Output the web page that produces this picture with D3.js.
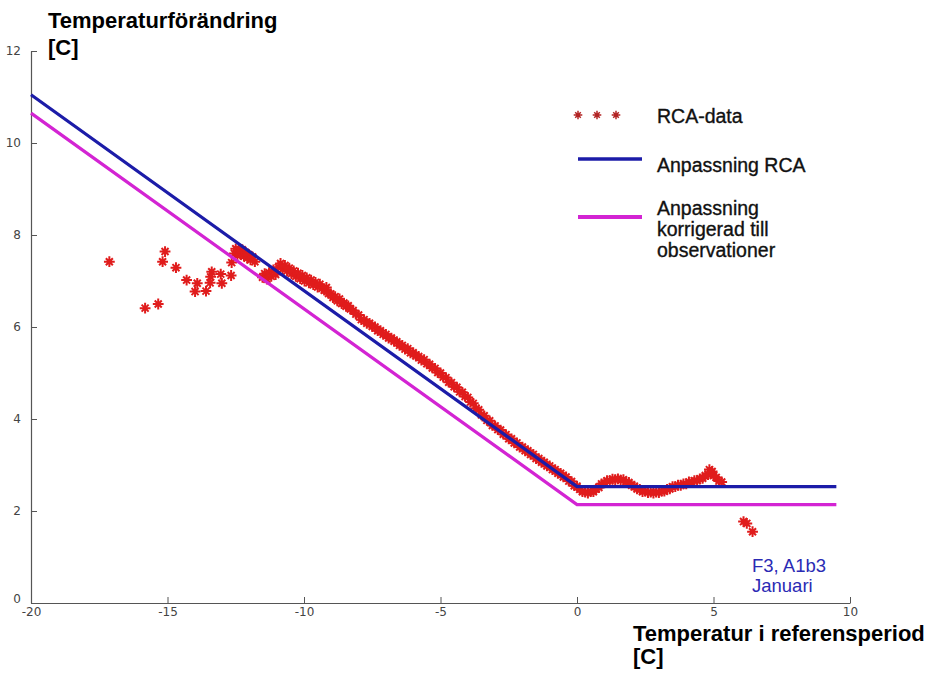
<!DOCTYPE html>
<html>
<head>
<meta charset="utf-8">
<script src="https://cdn.jsdelivr.net/npm/d3@7"></script>
<style>
  body { margin: 0; background: #fff; }
  text { font-family: "Liberation Sans", Arial, sans-serif; }
</style>
</head>
<body>
<svg id="chart" width="937" height="679"></svg>
<script>
// Axis ticks
const xTicks = [-20, -15, -10, -5, 0, 5, 10];
const yTicks = [0, 2, 4, 6, 8, 10, 12];

// RCA-data: reference-period temperature (x) and temperature change (y)
const rcaTemp = [
  -17.13, -15.82, -15.34, -15.09, -15.18, -14.69, -14.30, -13.91, -13.99, -13.59,
  -13.38, -13.42, -13.44, -13.05, -13.01, -12.67, -12.65,
  -12.55, -12.50, -12.44, -12.38, -12.32, -12.26, -12.20, -12.14, -12.08, -12.02,
  -11.96, -11.88, -11.80,
  -11.52, -11.44, -11.36, -11.28, -11.20, -11.12, -11.04,
  -10.94, -10.86, -10.78, -10.70, -10.62, -10.54, -10.46, -10.38, -10.30, -10.22,
  -10.14, -10.06, -9.98, -9.90, -9.82, -9.74, -9.66, -9.58, -9.50, -9.42,
  -9.34, -9.26, -9.18, -9.10, -9.02, -8.94, -8.86, -8.78, -8.70, -8.62,
  -8.54, -8.46, -8.38, -8.30,
  -8.20, -8.10, -8.00, -7.90, -7.80, -7.70, -7.60, -7.50, -7.40, -7.30,
  -7.20, -7.10, -7.00, -6.90, -6.80, -6.70, -6.60, -6.50, -6.40, -6.30,
  -6.20, -6.10, -6.00, -5.90, -5.80, -5.70, -5.60, -5.50, -5.40, -5.30,
  -5.20, -5.10, -5.00, -4.90, -4.80, -4.70, -4.60, -4.50, -4.40, -4.30,
  -4.20, -4.10, -4.00, -3.90, -3.80, -3.70, -3.60, -3.50, -3.40, -3.30,
  -3.20, -3.10, -3.00, -2.90, -2.80, -2.70, -2.60, -2.50, -2.40, -2.30,
  -2.20, -2.10, -2.00, -1.90, -1.80, -1.70, -1.60, -1.50, -1.40, -1.30,
  -1.20, -1.10, -1.00, -0.90, -0.80, -0.70, -0.60, -0.50, -0.40, -0.30,
  -0.20, -0.10, 0.00,
  0.10, 0.20, 0.30, 0.40, 0.50, 0.60, 0.70, 0.80, 0.90, 1.00,
  1.10, 1.20, 1.30, 1.40, 1.50, 1.60, 1.70, 1.80, 1.90, 2.00,
  2.10, 2.20, 2.30, 2.40, 2.50, 2.60, 2.70, 2.80, 2.90, 3.00,
  3.10, 3.20, 3.30, 3.40, 3.50, 3.60, 3.70, 3.80, 3.90, 4.00,
  4.10, 4.20, 4.30, 4.40, 4.50, 4.60, 4.70, 4.80, 4.85, 4.90,
  4.95, 5.00, 5.10, 5.20, 5.30,
  6.10, 6.22, 6.43
];
const rcaChange = [
  7.42, 6.41, 6.50, 7.64, 7.42, 7.29, 7.02, 6.95, 6.77, 6.78,
  7.20, 7.09, 6.96, 7.15, 6.95, 7.12, 7.40,
  7.60, 7.70, 7.56, 7.66, 7.58, 7.68, 7.54, 7.62, 7.50, 7.57,
  7.46, 7.52, 7.42,
  7.08, 7.16, 7.04, 7.18, 7.10, 7.24, 7.14,
  7.30, 7.38, 7.26, 7.34, 7.22, 7.28, 7.16, 7.22, 7.10, 7.17,
  7.05, 7.12, 7.00, 7.07, 6.96, 7.02, 6.92, 6.97, 6.87, 6.93,
  6.84, 6.80, 6.86, 6.73, 6.72, 6.64, 6.66, 6.57, 6.61, 6.51,
  6.52, 6.45, 6.46, 6.39,
  6.36, 6.28, 6.26, 6.16, 6.16, 6.08, 6.08, 6.01, 6.00, 5.92,
  5.92, 5.84, 5.84, 5.76, 5.76, 5.69, 5.68, 5.60, 5.60, 5.52,
  5.53, 5.44, 5.44, 5.37, 5.36, 5.28, 5.29, 5.20, 5.19, 5.11,
  5.10, 5.01, 5.00, 4.91, 4.90, 4.80, 4.79, 4.70, 4.69, 4.59,
  4.58, 4.49, 4.47, 4.37, 4.34, 4.23, 4.20, 4.09, 4.07, 3.97,
  3.96, 3.86, 3.85, 3.77, 3.76, 3.67, 3.66, 3.57, 3.57, 3.48,
  3.48, 3.39, 3.39, 3.31, 3.31, 3.23, 3.23, 3.14, 3.14, 3.06,
  3.06, 2.98, 2.98, 2.90, 2.90, 2.82, 2.82, 2.74, 2.74, 2.65,
  2.64, 2.55, 2.54,
  2.47, 2.42, 2.41, 2.39, 2.42, 2.42, 2.48, 2.51, 2.59, 2.61,
  2.66, 2.66, 2.69, 2.68, 2.70, 2.67, 2.68, 2.63, 2.62, 2.56,
  2.54, 2.48, 2.47, 2.42, 2.43, 2.40, 2.41, 2.39, 2.41, 2.40,
  2.43, 2.43, 2.47, 2.48, 2.53, 2.53, 2.56, 2.56, 2.59, 2.59,
  2.63, 2.62, 2.66, 2.66, 2.70, 2.71, 2.77, 2.79, 2.90, 2.83,
  2.86, 2.77, 2.73, 2.65, 2.63,
  1.77, 1.73, 1.55
];

// Piecewise-linear fits: break points and values
const fitX = [-20, 0, 9.5];
const fitRCA = [11.05, 2.53, 2.53];
const fitObs = [10.65, 2.14, 2.14];

const legendLabels = ["RCA-data", "Anpassning RCA", ["Anpassning", "korrigerad till", "observationer"]];
const noteLines = ["F3, A1b3", "Januari"];

const colors = { data: "#e01c1c", rca: "#1c1ca8", obs: "#d324d3", axis: "#555", note: "#2a2ab4" };

const svg = d3.select("#chart");
const x = d3.scaleLinear().domain([-20, 10]).range([31, 850]);
const y = d3.scaleLinear().domain([0, 12]).range([603, 51]);

// Asterisk marker (plus + cross)
function starPath(r) {
  const d = r * 0.65;
  return `M${-r},0L${r},0M0,${-r}L0,${r}M${-d},${-d}L${d},${d}M${-d},${d}L${d},${-d}`;
}

// Axes: ticks drawn inward, labels with plain hyphen minus
const fmt = d => String(d);
const xAxis = svg.append("g").attr("transform", `translate(0,${y(0)})`)
  .call(d3.axisBottom(x).tickValues(xTicks).tickSize(-6).tickPadding(7).tickSizeOuter(0).tickFormat(fmt));
const yAxis = svg.append("g").attr("transform", `translate(${x(-20)},0)`)
  .call(d3.axisLeft(y).tickValues(yTicks).tickSize(-6).tickPadding(10).tickSizeOuter(0).tickFormat(fmt));
[xAxis, yAxis].forEach(g => {
  g.select(".domain").attr("stroke", colors.axis).attr("stroke-width", 1.2);
  g.selectAll(".tick line").attr("stroke", colors.axis).attr("stroke-width", 1);
  g.selectAll(".tick text").attr("fill", "#444")
    .style("font-family", "'DejaVu Sans', 'Liberation Sans', sans-serif").style("font-size", "12px");
});
xAxis.selectAll(".tick text").attr("dy", "0.5em");
yAxis.selectAll(".tick").filter(d => d === 0).select("text").attr("dy", "-0.05em");

// Data markers
svg.append("g").selectAll("path")
  .data(rcaTemp.map((t, i) => [t, rcaChange[i]]))
  .join("path")
  .attr("transform", d => `translate(${x(d[0])},${y(d[1])})`)
  .attr("d", starPath(5.4))
  .attr("stroke", colors.data).attr("stroke-width", 2).attr("fill", "none");

// Fit lines
const line = d3.line().x(d => x(d[0])).y(d => y(d[1]));
svg.append("path").datum(fitX.map((v, i) => [v, fitObs[i]]))
  .attr("d", line).attr("fill", "none").attr("stroke", colors.obs).attr("stroke-width", 3.2);
svg.append("path").datum(fitX.map((v, i) => [v, fitRCA[i]]))
  .attr("d", line).attr("fill", "none").attr("stroke", colors.rca).attr("stroke-width", 3.2);

// Axis titles
const yTitle = svg.append("text").attr("x", 48).attr("y", 28)
  .attr("font-weight", "bold").attr("font-size", 22).attr("fill", "#000");
yTitle.append("tspan").attr("x", 48).text("Temperaturförändring");
yTitle.append("tspan").attr("x", 48).attr("dy", 27).text("[C]");

const xTitle = svg.append("text").attr("x", 633).attr("y", 641)
  .attr("font-weight", "bold").attr("font-size", 22).attr("fill", "#000");
xTitle.append("tspan").attr("x", 633).text("Temperatur i referensperiod");
xTitle.append("tspan").attr("x", 633).attr("dy", 23).text("[C]");

// Legend
const lg = svg.append("g");
[578, 597, 616].forEach(px => {
  lg.append("path").attr("transform", `translate(${px},115)`).attr("d", starPath(4.3))
    .attr("stroke", "#b22424").attr("stroke-width", 1.5).attr("fill", "none");
});
const legendText = (xp, yp) => lg.append("text").attr("x", xp).attr("y", yp)
  .attr("font-size", 19.5).attr("fill", "#111").attr("stroke", "#111").attr("stroke-width", 0.35);
legendText(657, 123).text(legendLabels[0]);
lg.append("line").attr("x1", 578).attr("x2", 642).attr("y1", 159).attr("y2", 159)
  .attr("stroke", colors.rca).attr("stroke-width", 3.5);
legendText(657, 172).text(legendLabels[1]);
lg.append("line").attr("x1", 578).attr("x2", 642).attr("y1", 217).attr("y2", 217)
  .attr("stroke", colors.obs).attr("stroke-width", 4);
const lt = legendText(657, 215);
legendLabels[2].forEach((s, i) => lt.append("tspan").attr("x", 657).attr("dy", i ? 21 : 0).text(s));

// Scenario note
const note = svg.append("text").attr("x", 752).attr("y", 572).attr("font-size", 18.5).attr("fill", colors.note);
noteLines.forEach((s, i) => note.append("tspan").attr("x", 752).attr("dy", i ? 20 : 0).text(s));
</script>
</body>
</html>
